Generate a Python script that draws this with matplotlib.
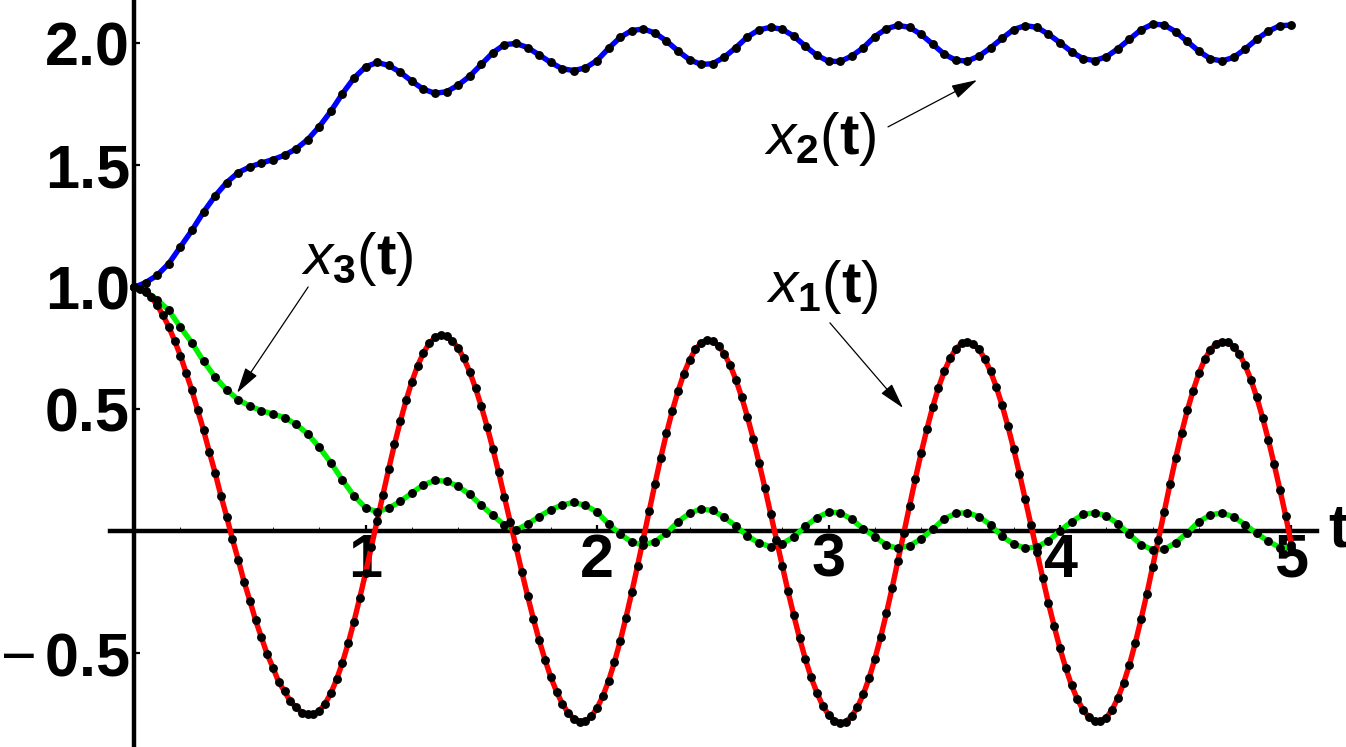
import numpy as np
import matplotlib
matplotlib.use("Agg")
import matplotlib.pyplot as plt

# sample times
t_red = np.linspace(0.0, 5.0, 201)   # step 0.025
t = np.linspace(0.0, 5.0, 101)       # step 0.05

# x1(t) - red
x1 = [1.000, 0.995, 0.982, 0.959, 0.927, 0.886, 0.839, 0.782,
      0.721, 0.650, 0.578, 0.496, 0.416, 0.326, 0.241, 0.147,
      0.061, -0.032, -0.116, -0.205, -0.283, -0.364, -0.433, -0.503,
      -0.558, -0.617, -0.655, -0.696, -0.721, -0.742, -0.750, -0.750,
      -0.736, -0.706, -0.663, -0.606, -0.538, -0.458, -0.369, -0.272,
      -0.170, -0.064, 0.044, 0.151, 0.256, 0.357, 0.451, 0.537,
      0.614, 0.679, 0.732, 0.771, 0.795, 0.805, 0.800, 0.782,
      0.752, 0.709, 0.654, 0.588, 0.513, 0.430, 0.339, 0.242,
      0.141, 0.039, -0.064, -0.165, -0.264, -0.358, -0.446, -0.525,
      -0.596, -0.656, -0.706, -0.743, -0.768, -0.779, -0.777, -0.758,
      -0.724, -0.675, -0.612, -0.536, -0.449, -0.353, -0.249, -0.141,
      -0.029, 0.084, 0.194, 0.301, 0.402, 0.494, 0.575, 0.647,
      0.703, 0.746, 0.773, 0.785, 0.780, 0.761, 0.728, 0.681,
      0.622, 0.550, 0.469, 0.379, 0.281, 0.179, 0.073, -0.034,
      -0.141, -0.245, -0.344, -0.437, -0.523, -0.598, -0.661, -0.714,
      -0.751, -0.775, -0.785, -0.779, -0.758, -0.720, -0.668, -0.602,
      -0.523, -0.434, -0.336, -0.230, -0.120, -0.008, 0.105, 0.215,
      0.321, 0.419, 0.510, 0.589, 0.656, 0.709, 0.748, 0.771,
      0.777, 0.769, 0.746, 0.708, 0.656, 0.592, 0.517, 0.431,
      0.338, 0.237, 0.132, 0.025, -0.083, -0.189, -0.293, -0.389,
      -0.479, -0.560, -0.630, -0.688, -0.731, -0.762, -0.778, -0.778,
      -0.763, -0.731, -0.683, -0.621, -0.546, -0.458, -0.360, -0.257,
      -0.146, -0.033, 0.081, 0.193, 0.302, 0.403, 0.496, 0.577,
      0.648, 0.705, 0.745, 0.770, 0.778, 0.775, 0.758, 0.727,
      0.681, 0.621, 0.550, 0.467, 0.376, 0.276, 0.172, 0.064,
      -0.055]

# x2(t) - blue
x2 = [1.000, 1.020, 1.050, 1.098, 1.166, 1.234, 1.309, 1.375, 1.430, 1.471,
      1.494, 1.510, 1.524, 1.542, 1.568, 1.606, 1.659, 1.722, 1.794, 1.858,
      1.904, 1.922, 1.910, 1.882, 1.845, 1.812, 1.796, 1.802, 1.829, 1.866,
      1.914, 1.962, 1.995, 2.000, 1.983, 1.953, 1.922, 1.896, 1.889, 1.900,
      1.930, 1.980, 2.025, 2.053, 2.059, 2.043, 2.010, 1.969, 1.933, 1.914,
      1.917, 1.944, 1.983, 2.027, 2.056, 2.066, 2.058, 2.030, 1.989, 1.951,
      1.927, 1.926, 1.948, 1.982, 2.028, 2.060, 2.074, 2.066, 2.037, 1.997,
      1.956, 1.931, 1.928, 1.948, 1.982, 2.021, 2.057, 2.073, 2.066, 2.038,
      2.003, 1.966, 1.937, 1.930, 1.945, 1.978, 2.017, 2.056, 2.079, 2.076,
      2.048, 2.008, 1.968, 1.937, 1.928, 1.943, 1.977, 2.017, 2.050, 2.073,
      2.075]

# x3(t) - green
x3 = [1.000, 0.984, 0.950, 0.906, 0.838, 0.773, 0.698, 0.633, 0.580, 0.540,
      0.514, 0.495, 0.481, 0.467, 0.439, 0.400, 0.345, 0.282, 0.211, 0.146,
      0.097, 0.081, 0.096, 0.123, 0.158, 0.191, 0.209, 0.206, 0.185, 0.152,
      0.107, 0.066, 0.026, 0.006, 0.030, 0.061, 0.089, 0.109, 0.119, 0.107,
      0.080, 0.030, -0.010, -0.044, -0.055, -0.042, -0.007, 0.040, 0.075, 0.092,
      0.086, 0.058, 0.022, -0.018, -0.048, -0.062, -0.050, -0.022, 0.021, 0.057,
      0.079, 0.077, 0.050, 0.011, -0.021, -0.056, -0.069, -0.058, -0.031, 0.009,
      0.052, 0.074, 0.077, 0.061, 0.027, -0.020, -0.052, -0.068, -0.064, -0.038,
      0.003, 0.040, 0.070, 0.077, 0.064, 0.032, -0.012, -0.054, -0.075, -0.073,
      -0.046, -0.005, 0.040, 0.068, 0.076, 0.060, 0.028, -0.008, -0.040, -0.066,
      -0.066]

xticks = [1, 2, 3, 4, 5]
xticklabels = ["1", "2", "3", "4", "5"]
yticks = [-0.5, 0.5, 1.0, 1.5, 2.0]
yticklabels = ["$\\mathrm{\u2212}\\,\\mathbf{0.5}$", "0.5", "1.0", "1.5", "2.0"]

plt.rcParams['mathtext.fontset'] = 'custom'
plt.rcParams['mathtext.rm'] = 'Liberation Sans'
plt.rcParams['mathtext.it'] = 'Liberation Sans:italic'
plt.rcParams['mathtext.bf'] = 'Liberation Sans:bold'
plt.rcParams['font.family'] = ['Liberation Sans', 'DejaVu Sans']

fig = plt.figure(figsize=(13.46, 7.47), dpi=100)
ax = fig.add_axes([110 / 1346, 2 / 747, 1206.7 / 1346, 745 / 747])
ax.set_xlim(-0.104, 5.109)
ax.set_ylim(-0.875, 2.178)

for s in ['top', 'right']:
    ax.spines[s].set_visible(False)
ax.spines['left'].set_position(('data', 0))
ax.spines['bottom'].set_position(('data', 0))
for s in ['left', 'bottom']:
    ax.spines[s].set_linewidth(3.2)
    ax.spines[s].set_color('black')
ax.patch.set_visible(False)

lw = 3.9
ax.plot(t, x3, color=(0.0, 0.95, 0.0), lw=lw, zorder=3, solid_capstyle='butt')
ax.plot(t_red, x1, color=(1.0, 0.0, 0.0), lw=lw, zorder=4, solid_capstyle='butt')
ax.plot(t, x2, color=(0.0, 0.0, 1.0), lw=lw, zorder=4, solid_capstyle='butt')
ms = 6.4
ax.plot(t, x3, 'o', color='black', ms=ms, mew=0, zorder=5)
ax.plot(t_red, x1, 'o', color='black', ms=ms, mew=0, zorder=5)
ax.plot(t, x2, 'o', color='black', ms=ms, mew=0, zorder=5)

ax.set_xticks(xticks)
ax.set_xticklabels(xticklabels)
ax.set_yticks(yticks)
ax.set_yticklabels(yticklabels)
ax.set_xticks(np.arange(0.2, 5.01, 0.2), minor=True)
ax.tick_params(axis='both', which='major', direction='in', length=4.5, width=1.6,
               labelsize=44)
ax.tick_params(axis='x', which='minor', direction='in', length=2.8, width=0.6)
ax.tick_params(axis='x', which='major', pad=1)
ax.tick_params(axis='y', which='major', pad=3)
for lab in ax.get_xticklabels() + ax.get_yticklabels():
    lab.set_fontweight('bold')

# axis label "t"
ax.text(5.158, 0.0, "t", fontsize=44, fontweight='bold', ha='left', va='center',
        clip_on=False)

# curve labels with arrows
arrow = dict(arrowstyle='-|>,head_length=0.8,head_width=0.22', lw=0.9,
             color='black', mutation_scale=20, shrinkA=0, shrinkB=0)
ax.text(2.965, 1.61, r'$\mathit{x}_{\mathbf{2}}(\mathbf{t})$', fontsize=42,
        ha='center', va='center')
ax.annotate('', xy=(3.642, 1.850), xytext=(3.257, 1.658), arrowprops=arrow)

ax.text(0.963, 1.115, r'$\mathit{x}_{\mathbf{3}}(\mathbf{t})$', fontsize=42,
        ha='center', va='center')
ax.annotate('', xy=(0.445, 0.568), xytext=(0.752, 1.002), arrowprops=arrow)

ax.text(2.972, 1.0, r'$\mathit{x}_{\mathbf{1}}(\mathbf{t})$', fontsize=42,
        ha='center', va='center')
ax.annotate('', xy=(3.322, 0.506), xytext=(3.006, 0.855), arrowprops=arrow)

fig.savefig("out.png", dpi=100)
